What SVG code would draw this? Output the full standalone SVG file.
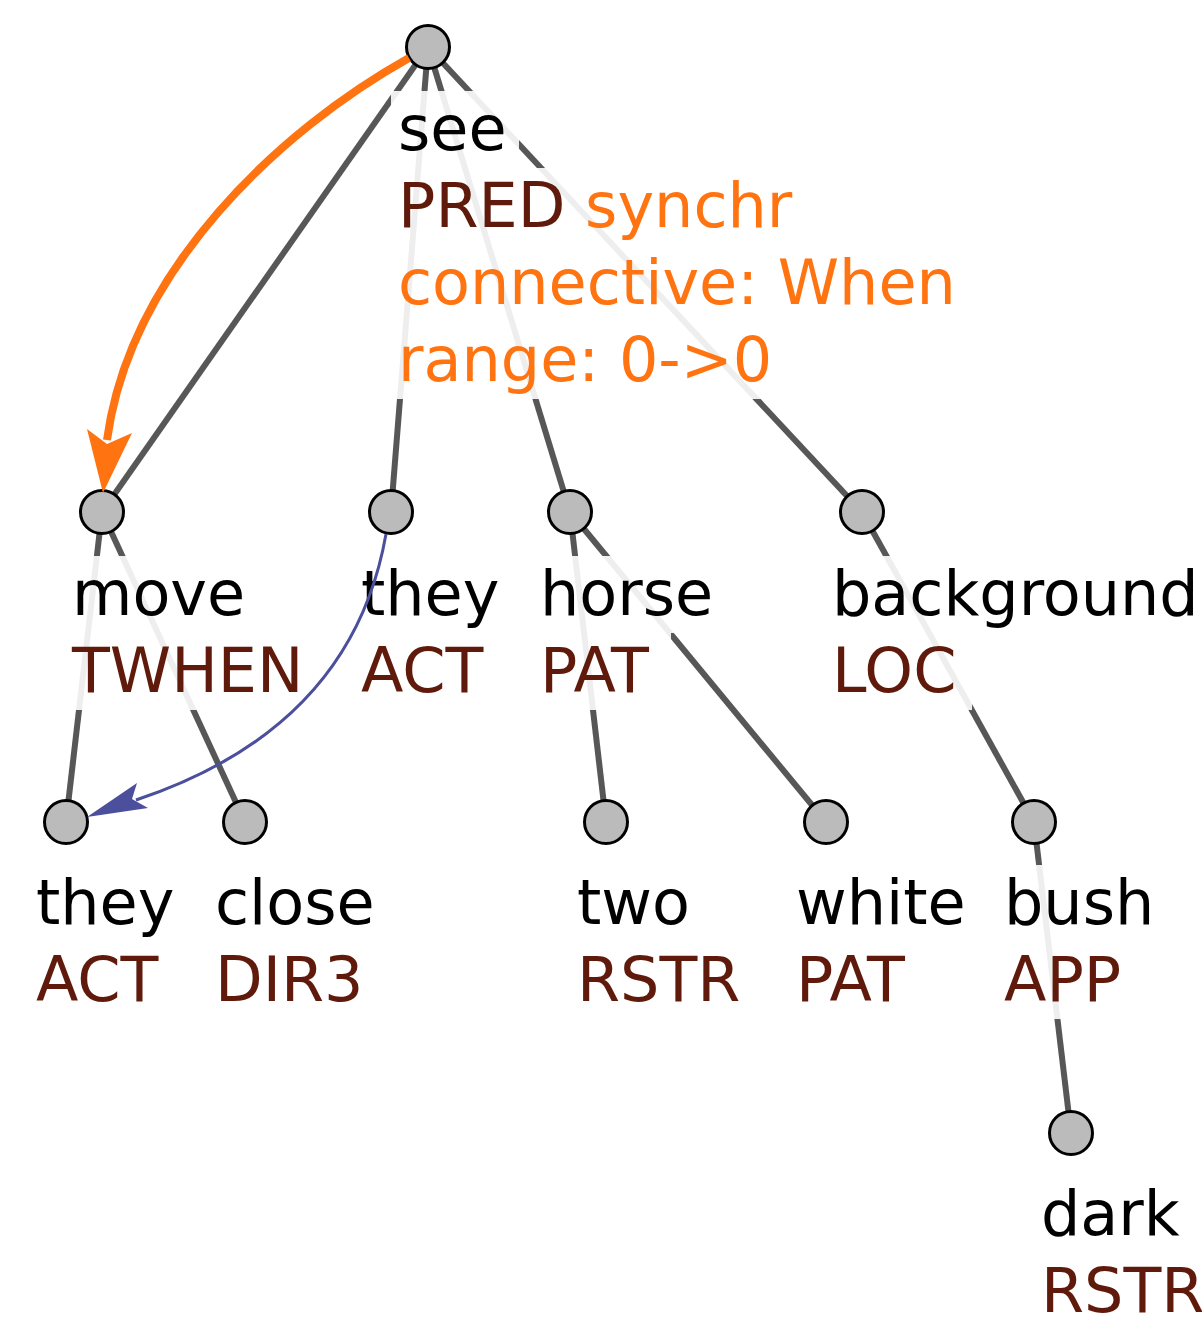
<svg xmlns="http://www.w3.org/2000/svg" width="1202" height="1321" viewBox="0 0 1202 1321">
<style>
.e{stroke:#575757;stroke-width:6;fill:none}
.b{fill:#ffffff;fill-opacity:0.9}
.t{font-family:"DejaVu Sans","Liberation Sans",sans-serif;font-size:62px}
.l{fill:#000000}
.f{fill:#601a0b}
.o{fill:#ff7311}
.n{fill:#bbbbbb;stroke:#000000;stroke-width:3}
</style>
<rect width="1202" height="1321" fill="#ffffff"/>
<g id="edges">
<line class="e" x1="428" y1="47" x2="102" y2="512"/>
<line class="e" x1="428" y1="47" x2="391" y2="512"/>
<line class="e" x1="428" y1="47" x2="570" y2="512"/>
<line class="e" x1="428" y1="47" x2="862" y2="512"/>
<line class="e" x1="102" y1="512" x2="66" y2="822"/>
<line class="e" x1="102" y1="512" x2="245" y2="822"/>
<line class="e" x1="570" y1="512" x2="606" y2="822"/>
<line class="e" x1="570" y1="512" x2="826" y2="822"/>
<line class="e" x1="862" y1="512" x2="1034" y2="822"/>
<line class="e" x1="1034" y1="822" x2="1071" y2="1133"/>
</g>
<g id="n-see">
<rect class="b" x="391" y="91" width="128" height="77"/>
<rect class="b" x="391" y="168" width="414" height="77"/>
<rect class="b" x="391" y="245" width="578" height="77"/>
<rect class="b" x="391" y="322" width="394" height="77"/>
<text class="t l" x="398" y="150">see</text>
<text class="t" x="398" y="227"><tspan class="f">PRED</tspan><tspan class="o"> synchr</tspan></text>
<text class="t o" x="398" y="304">connective: When</text>
<text class="t o" x="398" y="381">range: 0-&gt;0</text>
<circle class="n" cx="428" cy="47" r="21.5"/>
</g>
<g id="n-move">
<rect class="b" x="65" y="556" width="193" height="77"/>
<rect class="b" x="65" y="633" width="252" height="77"/>
<text class="t l" x="72" y="615">move</text>
<text class="t f" x="72" y="692">TWHEN</text>
<circle class="n" cx="102" cy="512" r="21.5"/>
</g>
<g id="n-they1">
<rect class="b" x="354" y="556" width="158" height="77"/>
<rect class="b" x="354" y="633" width="144" height="77"/>
<text class="t l" x="361" y="615">they</text>
<text class="t f" x="361" y="692">ACT</text>
<circle class="n" cx="391" cy="512" r="21.5"/>
</g>
<g id="n-horse">
<rect class="b" x="533" y="556" width="193" height="77"/>
<rect class="b" x="533" y="633" width="138" height="77"/>
<text class="t l" x="540" y="615">horse</text>
<text class="t f" x="540" y="692">PAT</text>
<circle class="n" cx="570" cy="512" r="21.5"/>
</g>
<g id="n-background">
<rect class="b" x="825" y="556" width="377" height="77"/>
<rect class="b" x="825" y="633" width="147" height="77"/>
<text class="t l" x="832" y="615">background</text>
<text class="t f" x="832" y="692">LOC</text>
<circle class="n" cx="862" cy="512" r="21.5"/>
</g>
<g id="n-they2">
<rect class="b" x="29" y="865" width="158" height="77"/>
<rect class="b" x="29" y="942" width="144" height="77"/>
<text class="t l" x="36" y="924">they</text>
<text class="t f" x="36" y="1001">ACT</text>
<circle class="n" cx="66" cy="822" r="21.5"/>
</g>
<g id="n-close">
<rect class="b" x="208" y="865" width="180" height="77"/>
<rect class="b" x="208" y="942" width="169" height="77"/>
<text class="t l" x="215" y="924">close</text>
<text class="t f" x="215" y="1001">DIR3</text>
<circle class="n" cx="245" cy="822" r="21.5"/>
</g>
<g id="n-two">
<rect class="b" x="569" y="865" width="133" height="77"/>
<rect class="b" x="569" y="942" width="184" height="77"/>
<text class="t l" x="577" y="924">two</text>
<text class="t f" x="577" y="1001">RSTR</text>
<circle class="n" cx="606" cy="822" r="21.5"/>
</g>
<g id="n-white">
<rect class="b" x="789" y="865" width="190" height="77"/>
<rect class="b" x="789" y="942" width="138" height="77"/>
<text class="t l" x="796" y="924">white</text>
<text class="t f" x="796" y="1001">PAT</text>
<circle class="n" cx="826" cy="822" r="21.5"/>
</g>
<g id="n-bush">
<rect class="b" x="997" y="865" width="171" height="77"/>
<rect class="b" x="997" y="942" width="137" height="77"/>
<text class="t l" x="1004" y="924">bush</text>
<text class="t f" x="1004" y="1001">APP</text>
<circle class="n" cx="1034" cy="822" r="21.5"/>
</g>
<g id="n-dark">
<rect class="b" x="1034" y="1176" width="160" height="77"/>
<rect class="b" x="1034" y="1253" width="168" height="68"/>
<text class="t l" x="1041" y="1235">dark</text>
<text class="t f" x="1041" y="1312">RSTR</text>
<circle class="n" cx="1071" cy="1133" r="21.5"/>
</g>
<g id="arrows">
<path d="M 409 58 C 280 130 130 270 107 440" fill="none" stroke="#ff7311" stroke-width="8"/>
<polygon points="103,493 87,429 107,444 132,433" fill="#ff7311"/>
<path d="M 386 534 Q 352 728 136 800" fill="none" stroke="#4b4f9c" stroke-width="3"/>
<polygon points="87,817 137,783 132,799 148,808" fill="#4b4f9c"/>
</g>
</svg>
